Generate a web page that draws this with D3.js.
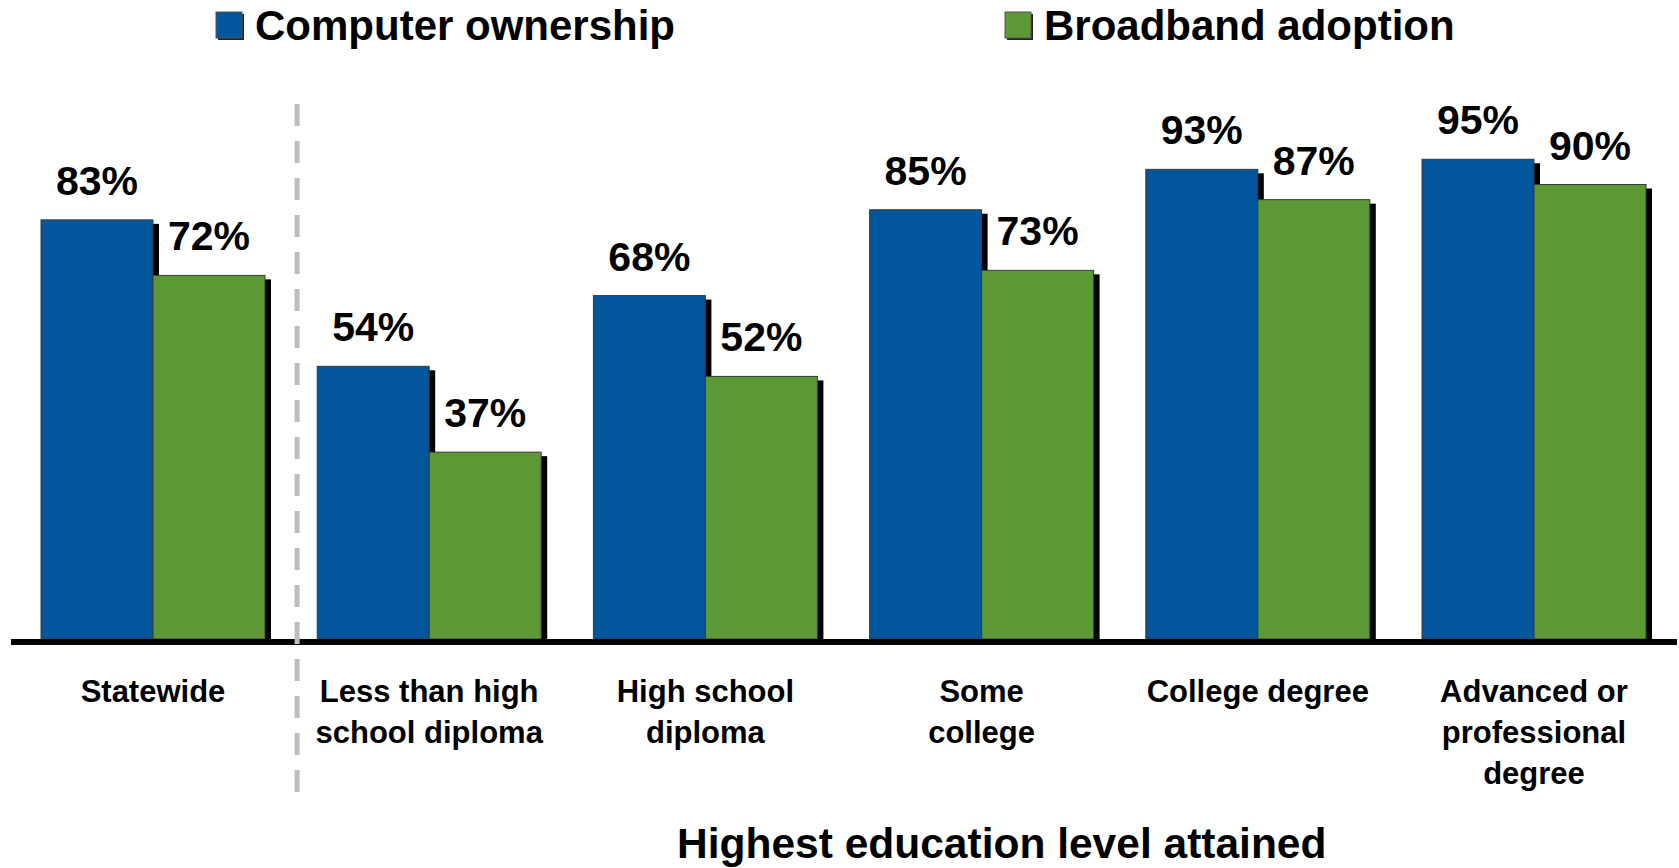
<!DOCTYPE html>
<html>
<head>
<meta charset="utf-8">
<script src="https://cdn.jsdelivr.net/npm/d3@7"></script>
<style>
  html, body { margin: 0; padding: 0; background: #fff; }
  svg { display: block; font-family: "Liberation Sans", Arial, sans-serif; font-weight: bold; }
</style>
</head>
<body>
<svg id="chart" width="1679" height="868"></svg>
<script>
// ---- data ----
const categories = ["Statewide", "Less than high school diploma", "High school diploma", "Some college", "College degree", "Advanced or professional degree"];
const categoryLines = [["Statewide"], ["Less than high", "school diploma"], ["High school", "diploma"], ["Some", "college"], ["College degree"], ["Advanced or", "professional", "degree"]];
const seriesNames = ["Computer ownership", "Broadband adoption"];
const computerOwnership = [83, 54, 68, 85, 93, 95];
const broadbandAdoption = [72, 37, 52, 73, 87, 90];
const axisTitle = "Highest education level attained";

const colors = ["#02569B", "#5C9934"];
const seriesValues = [computerOwnership, broadbandAdoption];

const svg = d3.select("#chart");

// scales
const step = 276.2, pIn = 0.189, pOut = 0.0945;
const x0Start = 41 - pOut * step;
const x0 = d3.scaleBand()
  .domain(categories)
  .range([x0Start, x0Start + step * (categories.length - pIn + 2 * pOut)])
  .paddingInner(pIn).paddingOuter(pOut);
const x1 = d3.scaleBand().domain(seriesNames).range([0, x0.bandwidth()]).padding(0);
const y = d3.scaleLinear().domain([0, 100]).range([639, 134]);

const bars = [];
categories.forEach((c, i) => {
  seriesNames.forEach((s, j) => bars.push({ cat: c, series: s, value: seriesValues[j][i], color: colors[j] }));
});

// shadows
svg.append("g").selectAll("rect").data(bars).join("rect")
  .attr("x", d => x0(d.cat) + x1(d.series) + 6)
  .attr("y", d => y(d.value) + 4)
  .attr("width", x1.bandwidth())
  .attr("height", d => y(0) - y(d.value) - 4)
  .attr("fill", "#000");

// bars
svg.append("g").selectAll("rect").data(bars).join("rect")
  .attr("x", d => x0(d.cat) + x1(d.series))
  .attr("y", d => y(d.value))
  .attr("width", x1.bandwidth())
  .attr("height", d => y(0) - y(d.value))
  .attr("fill", d => d.color)
  .attr("stroke", "#3a3a3a")
  .attr("stroke-width", 1);

// value labels
svg.append("g").selectAll("text").data(bars).join("text")
  .attr("x", d => x0(d.cat) + x1(d.series) + x1.bandwidth() / 2)
  .attr("y", d => y(d.value) - 25)
  .attr("text-anchor", "middle")
  .attr("font-size", 41)
  .attr("fill", "#000")
  .text(d => d.value + "%");

// baseline
svg.append("line")
  .attr("x1", 11).attr("x2", 1677)
  .attr("y1", y(0) + 3).attr("y2", y(0) + 3)
  .attr("stroke", "#000").attr("stroke-width", 6);

// dashed separator between Statewide and the education groups
const sepX = (x0(categories[0]) + x0.bandwidth() + x0(categories[1])) / 2 + 6;
svg.append("line")
  .attr("x1", sepX).attr("x2", sepX)
  .attr("y1", 792).attr("y2", 100)
  .attr("stroke", "#BDBDBD").attr("stroke-width", 5)
  .attr("stroke-dasharray", "22,15");

// category labels
const catG = svg.append("g");
categories.forEach((c, i) => {
  const t = catG.append("text")
    .attr("x", x0(c) + x0.bandwidth() / 2)
    .attr("y", 702)
    .attr("text-anchor", "middle")
    .attr("font-size", 31)
    .attr("fill", "#000");
  categoryLines[i].forEach((line, k) => {
    t.append("tspan").attr("x", x0(c) + x0.bandwidth() / 2).attr("dy", k === 0 ? 0 : 41).text(line);
  });
});

// axis title
svg.append("text")
  .attr("x", 677).attr("y", 858)
  .attr("font-size", 42.5)
  .attr("fill", "#000")
  .text(axisTitle);

// legend
const legendX = [216, 1005];
const leg = svg.append("g").selectAll("g").data(seriesNames).join("g")
  .attr("transform", (d, i) => `translate(${legendX[i]},12)`);
leg.append("rect").attr("x", 2).attr("y", 2).attr("width", 26).attr("height", 26).attr("fill", "#222");
leg.append("rect").attr("x", 0).attr("y", 0).attr("width", 26).attr("height", 26)
  .attr("fill", (d, i) => colors[i]).attr("stroke", "#555").attr("stroke-width", 1);
leg.append("text").attr("x", 39).attr("y", 28)
  .attr("font-size", 42).attr("fill", "#000")
  .text(d => d);
</script>
</body>
</html>
